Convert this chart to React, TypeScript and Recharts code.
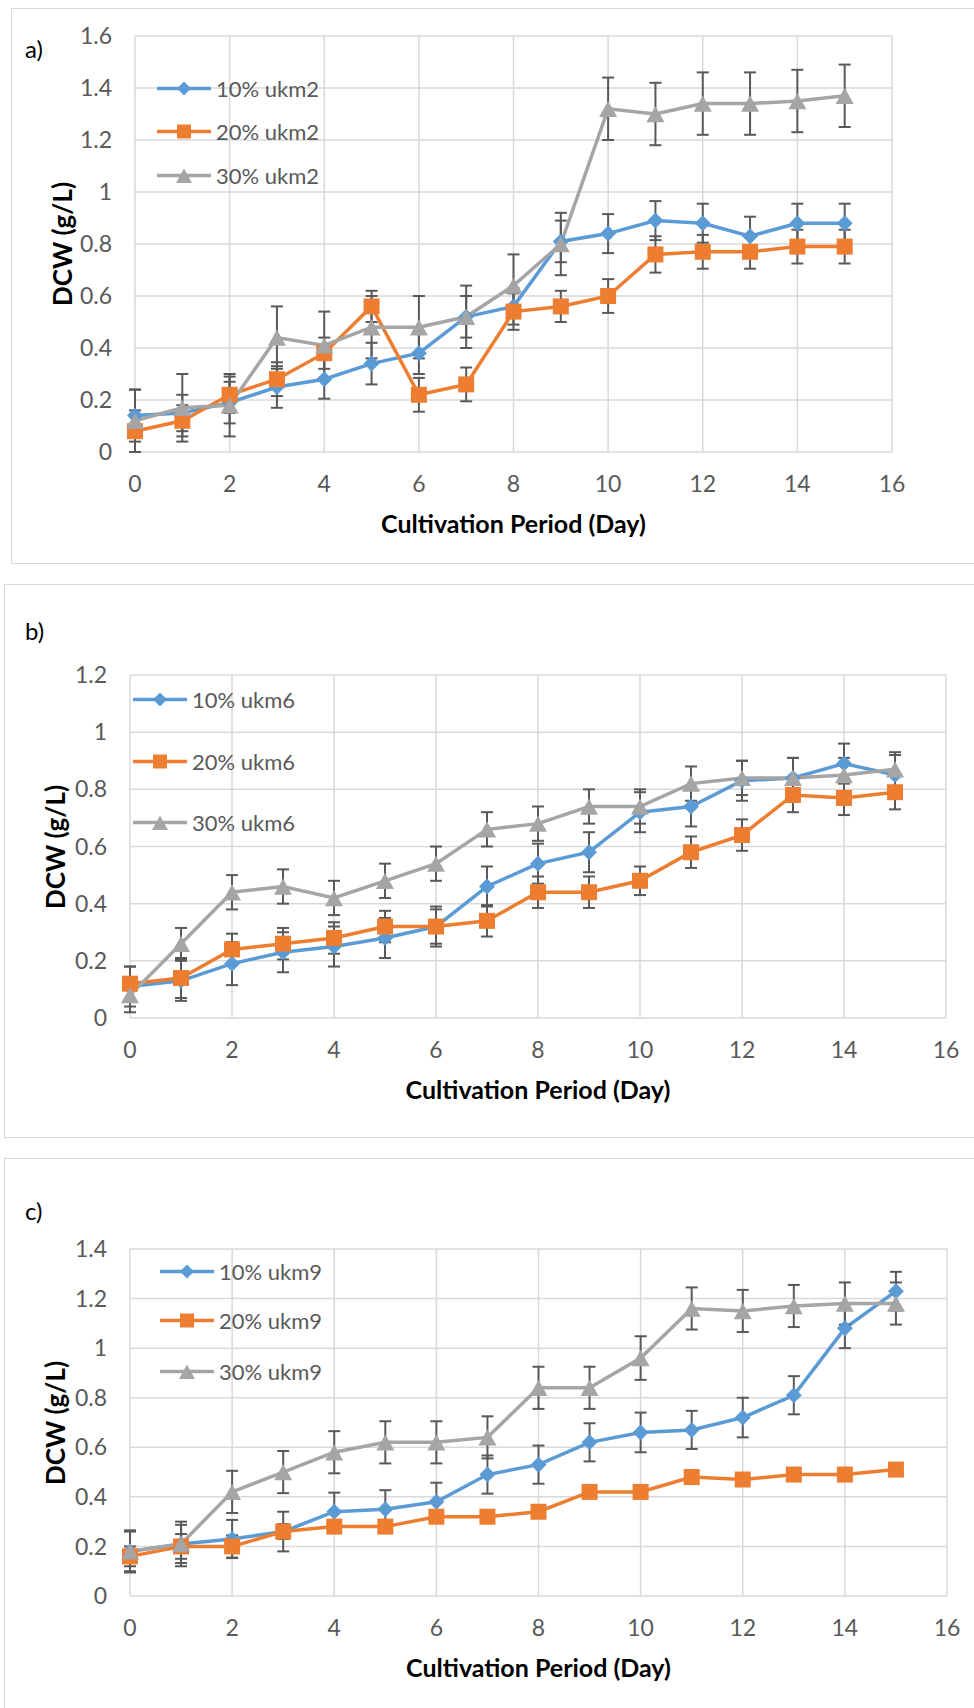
import { LineChart, Line, XAxis, YAxis, CartesianGrid, ErrorBar } from 'recharts'

const days = [0, 1, 2, 3, 4, 5, 6, 7, 8, 9, 10, 11, 12, 13, 14, 15]
const xTicks = [0, 2, 4, 6, 8, 10, 12, 14, 16]

// a) ukm2
const ukm2Labels = ['10% ukm2', '20% ukm2', '30% ukm2']
const ukm2_10 = [0.14, 0.15, 0.19, 0.25, 0.28, 0.34, 0.38, 0.52, 0.56, 0.81, 0.84, 0.89, 0.88, 0.83, 0.88, 0.88]
const ukm2_20 = [0.08, 0.12, 0.22, 0.28, 0.38, 0.56, 0.22, 0.26, 0.54, 0.56, 0.6, 0.76, 0.77, 0.77, 0.79, 0.79]
const ukm2_30 = [0.12, 0.17, 0.18, 0.44, 0.41, 0.48, 0.48, 0.52, 0.64, 0.8, 1.32, 1.3, 1.34, 1.34, 1.35, 1.37]
const ukm2_10err = [0.1, 0.07, 0.08, 0.08, 0.075, 0.08, 0.08, 0.08, 0.07, 0.08, 0.075, 0.075, 0.075, 0.075, 0.075, 0.075]
const ukm2_20err = [0.08, 0.06, 0.07, 0.065, 0.06, 0.06, 0.065, 0.065, 0.07, 0.06, 0.065, 0.07, 0.065, 0.065, 0.065, 0.065]
const ukm2_30err = [0.12, 0.13, 0.12, 0.12, 0.13, 0.12, 0.12, 0.12, 0.12, 0.12, 0.12, 0.12, 0.12, 0.12, 0.12, 0.12]
const ukm2Ticks = [0, 0.2, 0.4, 0.6, 0.8, 1, 1.2, 1.4, 1.6]

// b) ukm6
const ukm6Labels = ['10% ukm6', '20% ukm6', '30% ukm6']
const ukm6_10 = [0.11, 0.13, 0.19, 0.23, 0.25, 0.28, 0.32, 0.46, 0.54, 0.58, 0.72, 0.74, 0.83, 0.84, 0.89, 0.85]
const ukm6_20 = [0.12, 0.14, 0.24, 0.26, 0.28, 0.32, 0.32, 0.34, 0.44, 0.44, 0.48, 0.58, 0.64, 0.78, 0.77, 0.79]
const ukm6_30 = [0.08, 0.26, 0.44, 0.46, 0.42, 0.48, 0.54, 0.66, 0.68, 0.74, 0.74, 0.82, 0.84, 0.84, 0.85, 0.87]
const ukm6_10err = [0.07, 0.07, 0.075, 0.07, 0.07, 0.07, 0.07, 0.07, 0.07, 0.07, 0.07, 0.07, 0.07, 0.07, 0.07, 0.07]
const ukm6_20err = [0.06, 0.07, 0.055, 0.055, 0.055, 0.055, 0.06, 0.055, 0.055, 0.055, 0.05, 0.055, 0.055, 0.06, 0.06, 0.06]
const ukm6_30err = [0.06, 0.055, 0.06, 0.06, 0.06, 0.06, 0.06, 0.06, 0.06, 0.06, 0.06, 0.06, 0.06, 0.07, 0.06, 0.06]
const ukm6Ticks = [0, 0.2, 0.4, 0.6, 0.8, 1, 1.2]

// c) ukm9
const ukm9Labels = ['10% ukm9', '20% ukm9', '30% ukm9']
const ukm9_10 = [0.18, 0.21, 0.23, 0.26, 0.34, 0.35, 0.38, 0.49, 0.53, 0.62, 0.66, 0.67, 0.72, 0.81, 1.08, 1.23]
const ukm9_20 = [0.16, 0.2, 0.2, 0.26, 0.28, 0.28, 0.32, 0.32, 0.34, 0.42, 0.42, 0.48, 0.47, 0.49, 0.49, 0.51]
const ukm9_30 = [0.18, 0.21, 0.42, 0.5, 0.58, 0.62, 0.62, 0.64, 0.84, 0.84, 0.96, 1.16, 1.15, 1.17, 1.18, 1.18]
const ukm9_10err = [0.08, 0.077, 0.077, 0.08, 0.077, 0.077, 0.077, 0.077, 0.077, 0.077, 0.08, 0.077, 0.08, 0.077, 0.08, 0.078]
const ukm9_20err = [0.04, 0.05, 0.045, 0.03, 0.02, 0.02, 0.02, 0.02, 0.02, 0.02, 0.02, 0.02, 0.02, 0.02, 0.02, 0.02]
const ukm9_30err = [0.085, 0.09, 0.085, 0.085, 0.085, 0.085, 0.085, 0.085, 0.085, 0.085, 0.088, 0.085, 0.085, 0.085, 0.085, 0.085]
const ukm9Ticks = [0, 0.2, 0.4, 0.6, 0.8, 1, 1.2, 1.4]

const blue = '#5B9BD5'
const orange = '#ED7D31'
const gray = '#A5A5A5'
const errColor = '#595959'
const gridColor = '#D9D9D9'
const font = 'Lato, "Open Sans", sans-serif'

function rows(v10, v20, v30, e10, e20, e30) {
  return days.map((d, i) => ({
    day: d, s10: v10[i], s20: v20[i], s30: v30[i], e10: e10[i], e20: e20[i], e30: e30[i],
  }))
}

function diamondPts(cx, cy, r) {
  return `${cx},${cy - r} ${cx + r},${cy} ${cx},${cy + r} ${cx - r},${cy}`
}
function trianglePts(cx, cy, r) {
  return `${cx},${cy - r} ${cx + r},${cy + r * 0.8} ${cx - r},${cy + r * 0.8}`
}

const DiamondDot = (p) => {
  if (p.cx == null || p.cy == null) return null
  return <polygon key={`d-${p.index}`} points={diamondPts(p.cx, p.cy, 8)} fill={blue} />
}
const SquareDot = (p) => {
  if (p.cx == null || p.cy == null) return null
  return <rect key={`s-${p.index}`} x={p.cx - 8} y={p.cy - 8} width={16} height={16} fill={orange} />
}
const TriangleDot = (p) => {
  if (p.cx == null || p.cy == null) return null
  return <polygon key={`t-${p.index}`} points={trianglePts(p.cx, p.cy + 1, 9)} fill={gray} />
}

function LegendIcon({ kind }) {
  const color = kind === 0 ? blue : kind === 1 ? orange : gray
  return (
    <svg width={54} height={20} style={{ display: 'block' }}>
      <line x1={0} y1={10} x2={54} y2={10} stroke={color} strokeWidth={3.5} />
      {kind === 0 && <polygon points={diamondPts(27, 10, 7)} fill={color} />}
      {kind === 1 && <rect x={20} y={3} width={14} height={14} fill={color} />}
      {kind === 2 && <polygon points={trianglePts(27, 11, 8)} fill={color} />}
    </svg>
  )
}

function Panel({ letter, letterY, box, plot, yMax, yTicks, data, labels, legendX, legendRows, yTitleX }) {
  const padTop = 22
  const chartTop = plot.top - padTop
  const chartH = plot.bottom - plot.top + padTop + 60
  const tickStyle = { fontFamily: font, fontSize: 23, fill: '#595959' }
  return (
    <>
      <div style={{
        position: 'absolute', left: box.left, top: box.top, width: 990 - box.left, height: box.height,
        border: '1.5px solid #D9D9D9', boxSizing: 'border-box',
      }} />
      <div style={{ position: 'absolute', left: 25, top: letterY, transform: 'translateY(-50%)', fontFamily: font, fontSize: 24, color: '#000' }}>{letter}</div>
      <div style={{ position: 'absolute', left: 0, top: chartTop }}>
        <LineChart
          width={974}
          height={chartH}
          data={data}
          margin={{ top: padTop, right: 974 - plot.right, bottom: 0, left: plot.left - 60 }}
        >
          <CartesianGrid stroke={gridColor} strokeWidth={1.5} />
          <XAxis
            type="number"
            dataKey="day"
            domain={[0, 16]}
            ticks={xTicks}
            height={60}
            axisLine={false}
            tickLine={false}
            tickSize={0}
            tickMargin={24}
            tick={tickStyle}
          />
          <YAxis
            type="number"
            domain={[0, yMax]}
            ticks={yTicks}
            width={60}
            axisLine={false}
            tickLine={false}
            tickSize={0}
            tickMargin={23}
            tick={tickStyle}
            tickFormatter={(v) => String(v)}
          />
          <Line dataKey="s10" stroke={blue} strokeWidth={3.5} dot={DiamondDot} activeDot={false} isAnimationActive={false}>
            <ErrorBar dataKey="e10" direction="y" width={6} stroke={errColor} strokeWidth={2} />
          </Line>
          <Line dataKey="s20" stroke={orange} strokeWidth={3.5} dot={SquareDot} activeDot={false} isAnimationActive={false}>
            <ErrorBar dataKey="e20" direction="y" width={6} stroke={errColor} strokeWidth={2} />
          </Line>
          <Line dataKey="s30" stroke={gray} strokeWidth={3.5} dot={TriangleDot} activeDot={false} isAnimationActive={false}>
            <ErrorBar dataKey="e30" direction="y" width={6} stroke={errColor} strokeWidth={2} />
          </Line>
        </LineChart>
      </div>
      {labels.map((lab, i) => (
        <div key={lab} style={{
          position: 'absolute', left: legendX, top: legendRows[i], transform: 'translateY(-50%)',
          display: 'flex', alignItems: 'center', fontFamily: font, fontSize: 22, color: '#595959', whiteSpace: 'nowrap',
        }}>
          <LegendIcon kind={i} />
          <span style={{ marginLeft: 5 }}>{lab}</span>
        </div>
      ))}
      <div style={{
        position: 'absolute', left: (plot.left + plot.right) / 2, top: plot.bottom + 71,
        transform: 'translate(-50%, -50%)', fontFamily: font, fontWeight: 700, fontSize: 25, color: '#000', whiteSpace: 'nowrap',
      }}>Cultivation Period (Day)</div>
      <div style={{
        position: 'absolute', left: yTitleX, top: (plot.top + plot.bottom) / 2,
        transform: 'translate(-50%, -50%) rotate(-90deg)', fontFamily: font, fontWeight: 700, fontSize: 26, color: '#000', whiteSpace: 'nowrap',
      }}>DCW (g/L)</div>
    </>
  )
}

export default function App() {
  return (
    <div style={{ position: 'absolute', left: 0, top: 0, width: 974, height: 1708, overflow: 'hidden', background: '#fff' }}>
      <Panel
        letter="a)"
        letterY={48}
        box={{ left: 11, top: 8, height: 556 }}
        plot={{ left: 135, top: 36, right: 892, bottom: 452 }}
        yMax={1.6}
        yTicks={ukm2Ticks}
        data={rows(ukm2_10, ukm2_20, ukm2_30, ukm2_10err, ukm2_20err, ukm2_30err)}
        labels={ukm2Labels}
        legendX={157}
        legendRows={[88, 131, 175]}
        yTitleX={62}
      />
      <Panel
        letter="b)"
        letterY={630}
        box={{ left: 4, top: 584, height: 554 }}
        plot={{ left: 130, top: 675, right: 946, bottom: 1018 }}
        yMax={1.2}
        yTicks={ukm6Ticks}
        data={rows(ukm6_10, ukm6_20, ukm6_30, ukm6_10err, ukm6_20err, ukm6_30err)}
        labels={ukm6Labels}
        legendX={133}
        legendRows={[699, 761, 822]}
        yTitleX={55}
      />
      <Panel
        letter="c)"
        letterY={1210}
        box={{ left: 4, top: 1158, height: 600 }}
        plot={{ left: 130, top: 1249, right: 947, bottom: 1596 }}
        yMax={1.4}
        yTicks={ukm9Ticks}
        data={rows(ukm9_10, ukm9_20, ukm9_30, ukm9_10err, ukm9_20err, ukm9_30err)}
        labels={ukm9Labels}
        legendX={160}
        legendRows={[1271, 1320, 1371]}
        yTitleX={55}
      />
    </div>
  )
}
